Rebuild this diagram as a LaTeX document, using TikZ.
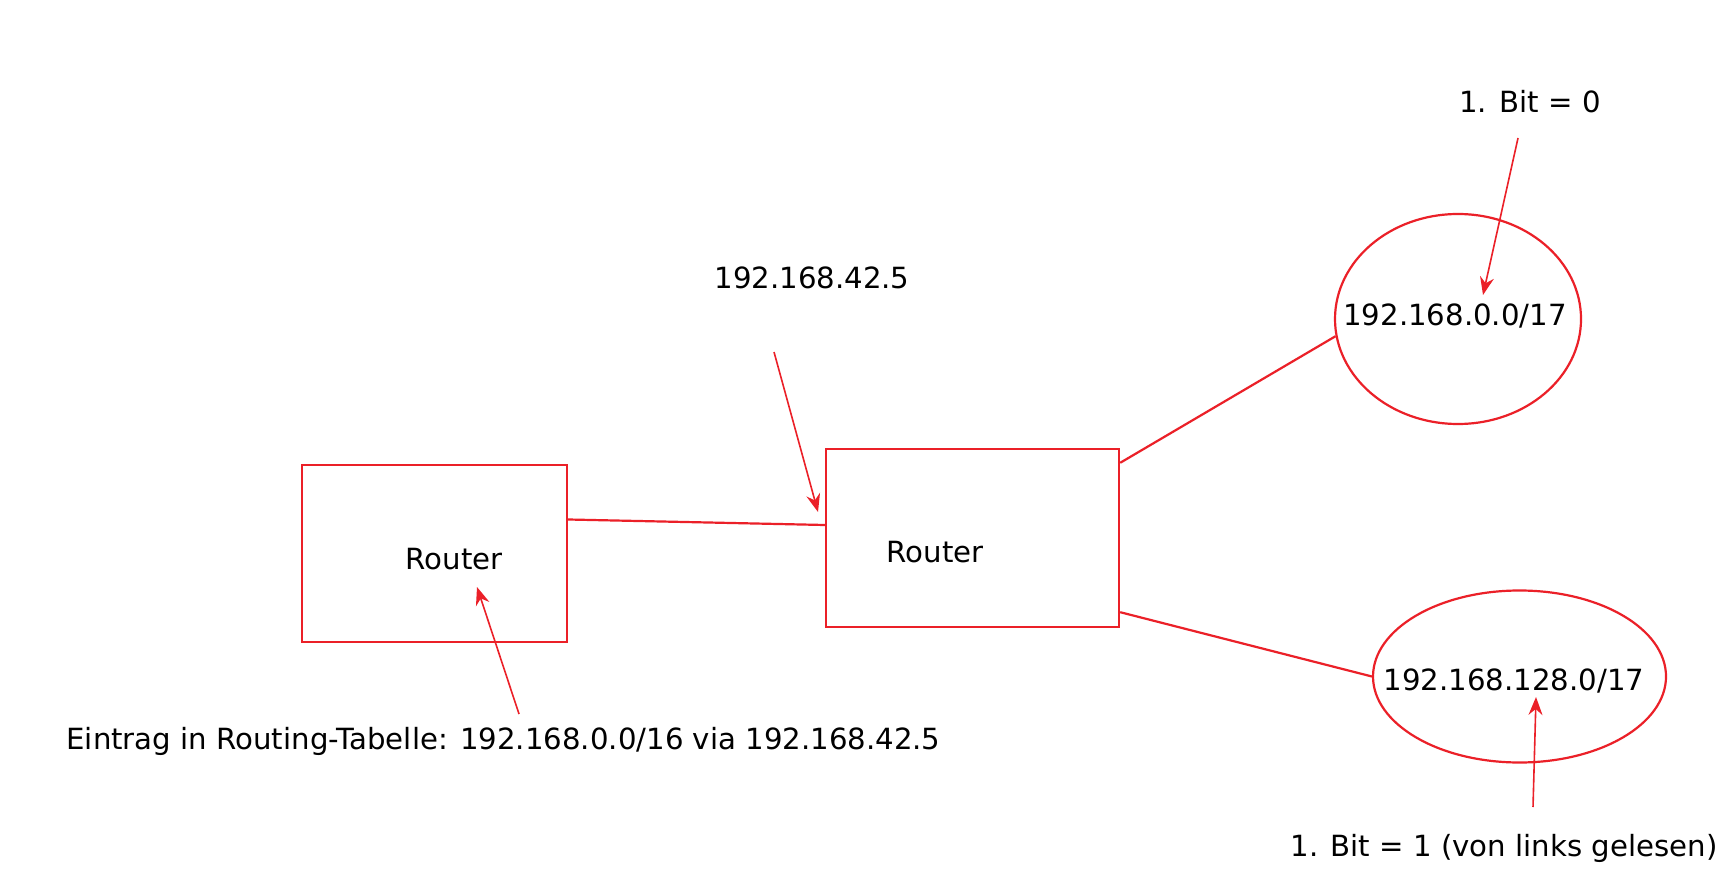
\documentclass[tikz,border=0pt]{standalone}
\usepackage{fontspec}
\setmainfont{DejaVu Sans}
\usepackage{xcolor}
\usetikzlibrary{shapes.geometric,arrows.meta}
\definecolor{netred}{RGB}{235,32,40}

\begin{document}
\begin{tikzpicture}[x=0.5pt,y=-0.5pt,>={Stealth[length=9pt,width=7pt,inset=3pt]},
        router/.style={rectangle,draw=netred,line width=1.2pt,inner sep=0pt},
        subnet/.style={ellipse,draw=netred,line width=1.1pt,inner sep=0pt},
        link/.style={netred,line width=1.1pt},
        hint/.style={netred,line width=0.8pt,->},
        every node/.style={font=\fontsize{14.6pt}{17pt}\selectfont}]
        \fill[white] (0,0) rectangle (1727,876);
        \useasboundingbox (0,0) rectangle (1727,876);

        \node at (434.5,553.5) [router,minimum width=132.5pt,minimum height=88.5pt] (r1) {};
        \node at (454,559) (r1txt) {Router};
        \node at (972.5,538) [router,minimum width=146.5pt,minimum height=89pt] (r2) {};
        \node at (935,552) (r2txt) {Router};

        \node at (1458,319) [subnet,minimum width=123pt,minimum height=105pt] (n1) {};
        \node at (1455,316) (n1txt) {192.168.0.0/17};
        \node at (1519.5,676.5) [subnet,minimum width=146.5pt,minimum height=86pt] (n2) {};
        \node at (1514,681) (n2txt) {192.168.128.0/17};

        \draw[link] ([yshift=17pt]r1.east) -- ([yshift=6.5pt]r2.west);
        \draw[link] ([yshift=-7.5pt]r2.north east) -- (n1.188);
        \draw[link] ([yshift=8pt]r2.south east) -- (n2.west);

        \node at (812,278) (gw) {192.168.42.5};
        \coordinate (gwtail) at (774,352);
        \coordinate (gwtip) at (818,512);
        \draw[hint] (gwtail) -- (gwtip);

        \node at (1530,102) (bit0) {1. Bit = 0};
        \coordinate (bit0tail) at (1518,138);
        \coordinate (bit0tip) at (1483,295);
        \draw[hint] (bit0tail) -- (bit0tip);

        \node at (1504,848) (bit1) {1. Bit = 1 (von links gelesen)};
        \coordinate (bit1tail) at (1533,807);
        \coordinate (bit1tip) at (1536,697);
        \draw[hint] (bit1tail) -- (bit1tip);

        \node at (503.5,741) (entry) {Eintrag in Routing-Tabelle: 192.168.0.0/16 via 192.168.42.5};
        \coordinate (entrytail) at (519,714);
        \coordinate (entrytip) at (477,587);
        \draw[hint] (entrytail) -- (entrytip);
\end{tikzpicture}
\end{document}
